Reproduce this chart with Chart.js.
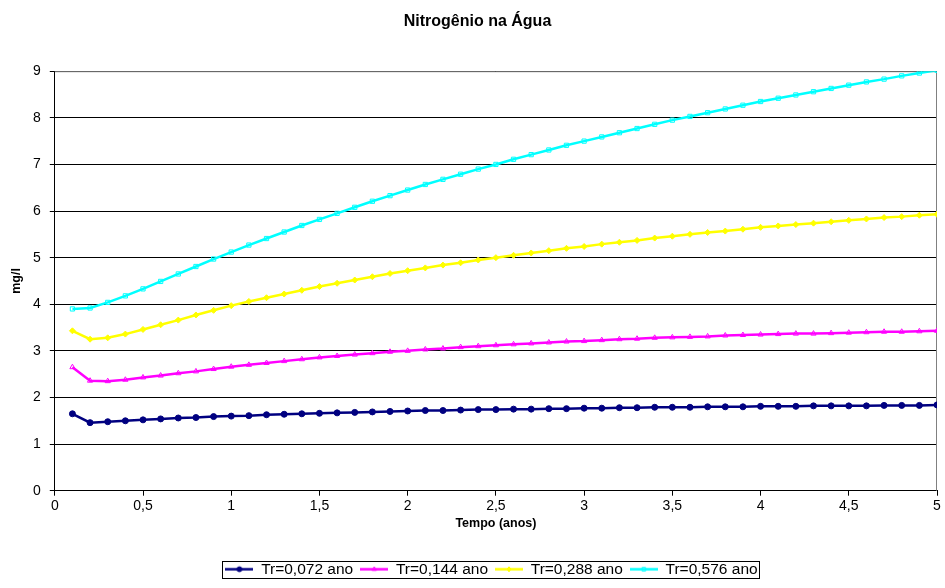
<!DOCTYPE html>
<html>
<head>
<meta charset="utf-8">
<script src="https://cdn.jsdelivr.net/npm/chart.js@4.4.1/dist/chart.umd.min.js"></script>
<style>
  html, body { margin: 0; padding: 0; background: #fff; }
  #wrap { width: 945px; height: 588px; }
</style>
</head>
<body>
<div id="wrap"><canvas id="grafic" width="945" height="588"></canvas></div>
<script>
var tempos = [0.1, 0.2, 0.3, 0.4, 0.5, 0.6, 0.7, 0.8, 0.9, 1.0,
              1.1, 1.2, 1.3, 1.4, 1.5, 1.6, 1.7, 1.8, 1.9, 2.0,
              2.1, 2.2, 2.3, 2.4, 2.5, 2.6, 2.7, 2.8, 2.9, 3.0,
              3.1, 3.2, 3.3, 3.4, 3.5, 3.6, 3.7, 3.8, 3.9, 4.0,
              4.1, 4.2, 4.3, 4.4, 4.5, 4.6, 4.7, 4.8, 4.9, 5.0];

var nomsSeries = ['Tr=0,072 ano', 'Tr=0,144 ano', 'Tr=0,288 ano', 'Tr=0,576 ano'];

var tr072 = [1.65, 1.46, 1.48, 1.50, 1.52, 1.54, 1.56, 1.57, 1.59, 1.60,
             1.61, 1.63, 1.64, 1.65, 1.66, 1.67, 1.68, 1.69, 1.70, 1.71,
             1.72, 1.72, 1.73, 1.74, 1.74, 1.75, 1.75, 1.76, 1.76, 1.77,
             1.77, 1.78, 1.78, 1.79, 1.79, 1.79, 1.80, 1.80, 1.80, 1.81,
             1.81, 1.81, 1.82, 1.82, 1.82, 1.82, 1.83, 1.83, 1.83, 1.84];

var tr144 = [2.65, 2.36, 2.35, 2.38, 2.43, 2.47, 2.52, 2.56, 2.61, 2.66,
             2.70, 2.74, 2.78, 2.82, 2.86, 2.89, 2.92, 2.95, 2.98, 3.00,
             3.03, 3.05, 3.08, 3.10, 3.12, 3.14, 3.16, 3.18, 3.20, 3.21,
             3.23, 3.25, 3.26, 3.28, 3.29, 3.30, 3.31, 3.33, 3.34, 3.35,
             3.36, 3.37, 3.37, 3.38, 3.39, 3.40, 3.41, 3.41, 3.42, 3.43];

var tr288 = [3.43, 3.25, 3.28, 3.36, 3.46, 3.56, 3.66, 3.77, 3.87, 3.97,
             4.06, 4.14, 4.22, 4.30, 4.38, 4.45, 4.52, 4.59, 4.66, 4.72,
             4.78, 4.84, 4.89, 4.95, 5.00, 5.05, 5.10, 5.15, 5.20, 5.24,
             5.29, 5.33, 5.37, 5.42, 5.46, 5.50, 5.54, 5.57, 5.61, 5.65,
             5.68, 5.71, 5.74, 5.77, 5.80, 5.83, 5.86, 5.88, 5.91, 5.93];

var tr576 = [3.90, 3.92, 4.04, 4.18, 4.33, 4.49, 4.65, 4.81, 4.97, 5.12,
             5.27, 5.41, 5.55, 5.69, 5.82, 5.95, 6.08, 6.21, 6.33, 6.45,
             6.57, 6.68, 6.79, 6.90, 7.00, 7.11, 7.21, 7.31, 7.41, 7.50,
             7.59, 7.68, 7.77, 7.86, 7.95, 8.03, 8.11, 8.19, 8.27, 8.35,
             8.42, 8.49, 8.56, 8.63, 8.70, 8.77, 8.83, 8.90, 8.96, 9.02];

var ticksX = [0, 0.5, 1, 1.5, 2, 2.5, 3, 3.5, 4, 4.5, 5];
var ticksY = [0, 1, 2, 3, 4, 5, 6, 7, 8, 9];

var colors = ['#000080', '#ff00ff', '#ffff00', '#00ffff'];
var marcadors = ['circle', 'triangle', 'rectRot', 'rect'];

function punts(valors) {
    var res = [];
    for (var i = 0; i < tempos.length; i++) {
        res.push({ x: tempos[i], y: valors[i] });
    }
    return res;
}

function farciment(s) {
    return (s === 0 || s === 2) ? colors[s] : 'rgba(255,255,255,0)';
}

// petita imatge per a la llegenda: línia amb el marcador al mig
function iconaLlegenda(s) {
    var c = document.createElement('canvas');
    c.width = 28;
    c.height = 9;
    var ctx = c.getContext('2d');
    ctx.strokeStyle = colors[s];
    ctx.lineWidth = 2.5;
    ctx.beginPath();
    ctx.moveTo(0, 4.5);
    ctx.lineTo(28, 4.5);
    ctx.stroke();
    ctx.fillStyle = farciment(s);
    ctx.lineWidth = 1;
    Chart.helpers.drawPoint(ctx, {
        pointStyle: marcadors[s], radius: 2.5, rotation: 0, borderWidth: 1
    }, 14, 4.5);
    return c;
}

var series = [tr072, tr144, tr288, tr576];
var datasets = [];
for (var s = 0; s < series.length; s++) {
    datasets.push({
        label: nomsSeries[s],
        data: punts(series[s]),
        borderColor: colors[s],
        backgroundColor: colors[s],
        borderWidth: 2.5,
        pointStyle: marcadors[s],
        pointRadius: 3,
        pointBorderWidth: 1,
        pointBackgroundColor: farciment(s),
        pointBorderColor: colors[s],
        tension: 0
    });
}

// desplaçaments horitzontals del títol i de la llegenda (com a l'original)
var despTitol = 9;
var despLlegenda = 23;

var voraPlugin = {
    id: 'vora',
    afterLayout: function(chart) {
        if (chart.titleBlock) {
            chart.titleBlock.left += despTitol;
            chart.titleBlock.right += despTitol;
        }
        var lg = chart.legend;
        lg.left += despLlegenda;
        lg.right += despLlegenda;
        (lg.legendHitBoxes || []).forEach(function(h) { h.left += despLlegenda; });
    },
    beforeDatasetsDraw: function(chart) {
        var a = chart.chartArea;
        var ctx = chart.ctx;
        ctx.save();
        ctx.strokeStyle = '#808080';
        ctx.lineWidth = 1;
        ctx.beginPath();
        ctx.moveTo(a.left, a.top + 0.5);
        ctx.lineTo(a.right - 0.5, a.top + 0.5);
        ctx.lineTo(a.right - 0.5, a.bottom);
        ctx.stroke();
        ctx.restore();
    },
    afterDraw: function(chart) {
        var hb = chart.legend.legendHitBoxes;
        if (!hb || !hb.length) return;
        var l = hb[0].left, r = hb[hb.length - 1].left + hb[hb.length - 1].width;
        var t = hb[0].top, h = hb[0].height;
        var ctx = chart.ctx;
        ctx.save();
        ctx.strokeStyle = '#000';
        ctx.lineWidth = 1;
        ctx.strokeRect(Math.round(l - 3) + 0.5, Math.round(t - 1) + 0.5, Math.round(r - l + 5), Math.round(h + 1));
        ctx.restore();
    }
};

Chart.defaults.font.family = '"Liberation Sans", Arial, sans-serif';
Chart.defaults.color = '#000';

new Chart(document.getElementById('grafic').getContext('2d'), {
    type: 'line',
    data: { datasets: datasets },
    plugins: [voraPlugin],
    options: {
        responsive: false,
        animation: false,
        devicePixelRatio: 1,
        layout: { padding: { left: 0, right: 8, top: 0, bottom: 1 } },
        plugins: {
            title: {
                display: true,
                text: 'Nitrogênio na Água',
                font: { size: 16, weight: 'bold' },
                padding: { top: 12, bottom: 40 }
            },
            legend: {
                position: 'bottom',
                labels: {
                    usePointStyle: true,
                    pointStyleWidth: 28,
                    padding: 7,
                    font: { size: 15.5 },
                    generateLabels: function(chart) {
                        return chart.data.datasets.map(function(ds, i) {
                            return {
                                text: ds.label,
                                pointStyle: iconaLlegenda(i),
                                fillStyle: colors[i],
                                strokeStyle: colors[i],
                                lineWidth: 0,
                                hidden: false,
                                datasetIndex: i
                            };
                        });
                    }
                }
            },
            tooltip: { enabled: false }
        },
        scales: {
            x: {
                type: 'linear',
                min: 0,
                max: 5,
                afterBuildTicks: function(scale) {
                    scale.ticks = ticksX.map(function(v) { return { value: v }; });
                },
                ticks: {
                    font: { size: 14 },
                    padding: 2,
                    maxRotation: 0,
                    callback: function(v) { return String(v).replace('.', ','); }
                },
                grid: { drawOnChartArea: false, color: '#000', tickLength: 5 },
                border: { color: '#000', width: 1 },
                title: {
                    display: true,
                    text: 'Tempo (anos)',
                    font: { size: 12.5, weight: 'bold' },
                    padding: { top: 0, bottom: 23 }
                }
            },
            y: {
                min: 0,
                max: 9,
                afterBuildTicks: function(scale) {
                    scale.ticks = ticksY.map(function(v) { return { value: v }; });
                },
                ticks: { font: { size: 14 }, padding: 9 },
                grid: { color: '#000', tickLength: 5 },
                border: { color: '#000', width: 1 },
                title: {
                    display: true,
                    text: 'mg/l',
                    font: { size: 12.5, weight: 'bold' },
                    padding: { top: 9, bottom: 0 }
                }
            }
        }
    }
});
</script>
</body>
</html>
